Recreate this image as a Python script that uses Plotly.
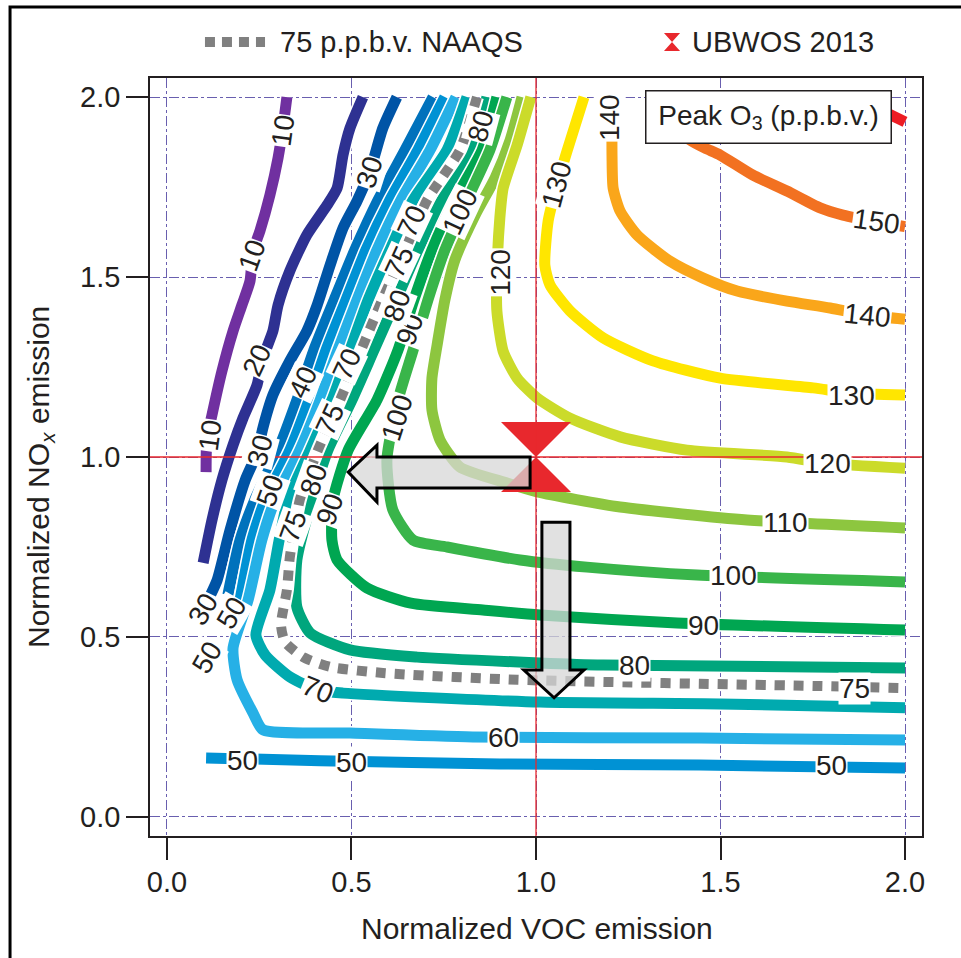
import plotly.graph_objects as go

# ---------------- data ----------------
# Each contour: normalized VOC emission (x) and normalized NOx emission (y)
VOC_10 = [0.325, 0.314, 0.301, 0.279, 0.252, 0.233, 0.225, 0.203, 0.179, 0.149, 0.122, 0.108, 0.106]
NOX_10 = [2.0, 1.914, 1.831, 1.728, 1.628, 1.572, 1.489, 1.422, 1.350, 1.239, 1.117, 1.047, 0.958]

VOC_20 = [0.531, 0.496, 0.477, 0.461, 0.434, 0.379, 0.333, 0.301, 0.287, 0.260, 0.244, 0.206, 0.179, 0.149, 0.122, 0.098]
NOX_20 = [2.0, 1.914, 1.839, 1.747, 1.700, 1.617, 1.517, 1.422, 1.350, 1.275, 1.200, 1.108, 1.033, 0.936, 0.825, 0.706]

VOC_30 = [0.623, 0.585, 0.550, 0.515, 0.477, 0.442, 0.407, 0.379, 0.333, 0.287, 0.260, 0.244, 0.212, 0.171, 0.136, 0.119]
NOX_30 = [2.0, 1.914, 1.794, 1.711, 1.636, 1.533, 1.422, 1.350, 1.267, 1.172, 1.081, 1.011, 0.936, 0.797, 0.658, 0.619]

VOC_40 = [0.721, 0.645, 0.572, 0.509, 0.453, 0.398, 0.352, 0.301, 0.238, 0.198, 0.165]
NOX_40 = [2.0, 1.853, 1.714, 1.575, 1.436, 1.297, 1.158, 1.019, 0.881, 0.769, 0.617]

VOC_50 = [0.753, 0.680, 0.604, 0.539, 0.485, 0.431, 0.385, 0.333, 0.266, 0.230, 0.198]
NOX_50 = [2.0, 1.853, 1.714, 1.575, 1.436, 1.297, 1.158, 1.019, 0.881, 0.769, 0.603]

VOC_50_LOW = [0.106, 0.415, 0.902, 1.444, 2.0]
NOX_50_LOW = [0.164, 0.156, 0.147, 0.144, 0.136]

VOC_60 = [0.783, 0.713, 0.634, 0.569, 0.515, 0.463, 0.415, 0.360, 0.293, 0.257, 0.220, 0.179, 0.190, 0.233, 0.260, 0.496, 0.829, 1.444, 2.0]
NOX_60 = [2.0, 1.853, 1.714, 1.575, 1.436, 1.297, 1.158, 1.019, 0.881, 0.769, 0.603, 0.469, 0.381, 0.289, 0.242, 0.233, 0.222, 0.219, 0.214]

VOC_70 = [0.813, 0.759, 0.667, 0.604, 0.545, 0.496, 0.447, 0.388, 0.328, 0.304, 0.279, 0.241, 0.266, 0.333, 0.407, 0.477, 1.011, 1.499, 2.0]
NOX_70 = [2.0, 1.853, 1.714, 1.575, 1.436, 1.297, 1.158, 1.019, 0.881, 0.769, 0.631, 0.506, 0.450, 0.389, 0.353, 0.344, 0.319, 0.314, 0.303]

VOC_75 = [0.840, 0.794, 0.705, 0.645, 0.583, 0.526, 0.469, 0.409, 0.360, 0.333, 0.325, 0.309, 0.320, 0.369, 0.442, 0.585, 0.949, 1.751, 2.0]
NOX_75 = [2.0, 1.853, 1.714, 1.575, 1.436, 1.297, 1.158, 1.019, 0.881, 0.722, 0.631, 0.533, 0.486, 0.444, 0.417, 0.400, 0.381, 0.364, 0.358]

VOC_80 = [0.867, 0.848, 0.821, 0.745, 0.680, 0.621, 0.561, 0.501, 0.436, 0.393, 0.352, 0.352, 0.388, 0.496, 0.678, 1.011, 1.182, 2.0]
NOX_80 = [2.0, 1.922, 1.853, 1.714, 1.575, 1.436, 1.297, 1.158, 1.019, 0.881, 0.714, 0.583, 0.511, 0.464, 0.444, 0.428, 0.422, 0.414]

VOC_90 = [0.894, 0.854, 0.780, 0.718, 0.669, 0.626, 0.569, 0.491, 0.450, 0.447, 0.461, 0.542, 0.661, 0.856, 1.011, 1.382, 2.0]
NOX_90 = [2.0, 1.853, 1.714, 1.575, 1.436, 1.297, 1.158, 1.019, 0.881, 0.769, 0.714, 0.636, 0.594, 0.575, 0.561, 0.539, 0.519]

VOC_100 = [0.921, 0.875, 0.813, 0.753, 0.707, 0.667, 0.626, 0.596, 0.612, 0.667, 0.759, 0.957, 1.138, 1.436, 2.0]
NOX_100 = [2.0, 1.853, 1.714, 1.575, 1.436, 1.297, 1.158, 0.992, 0.853, 0.769, 0.750, 0.714, 0.694, 0.672, 0.653]

VOC_110 = [0.962, 0.930, 0.889, 0.835, 0.780, 0.753, 0.732, 0.718, 0.718, 0.740, 0.794, 0.921, 1.003, 1.228, 1.572, 2.0]
NOX_110 = [2.0, 1.881, 1.775, 1.672, 1.547, 1.436, 1.311, 1.219, 1.131, 1.047, 0.972, 0.928, 0.903, 0.861, 0.825, 0.803]

VOC_120 = [0.986, 0.949, 0.911, 0.902, 0.894, 0.894, 0.911, 0.949, 1.003, 1.092, 1.228, 1.409, 1.680, 1.783, 2.0]
NOX_120 = [2.0, 1.867, 1.747, 1.664, 1.506, 1.406, 1.294, 1.219, 1.164, 1.108, 1.056, 1.019, 1.0, 0.983, 0.969]

VOC_130 = [1.130, 1.084, 1.057, 1.033, 1.024, 1.038, 1.092, 1.182, 1.317, 1.499, 1.751, 1.851, 2.0]
NOX_130 = [2.0, 1.850, 1.756, 1.656, 1.533, 1.478, 1.406, 1.331, 1.267, 1.219, 1.192, 1.178, 1.172]

VOC_140 = [1.206, 1.206, 1.209, 1.228, 1.274, 1.363, 1.453, 1.545, 1.680, 1.797, 1.897, 2.0]
NOX_140 = [2.0, 1.836, 1.747, 1.683, 1.617, 1.544, 1.497, 1.461, 1.433, 1.414, 1.394, 1.383]

VOC_150 = [1.363, 1.417, 1.458, 1.499, 1.588, 1.680, 1.770, 1.832, 1.924, 2.0]
NOX_150 = [1.936, 1.881, 1.858, 1.839, 1.783, 1.739, 1.692, 1.672, 1.653, 1.640]

VOC_160 = [1.878, 2.0]
NOX_160 = [1.992, 1.931]

# UBWOS 2013 observation point
UBWOS_VOC = [1.0]
UBWOS_NOX = [1.0]

# contour label levels (in drawing order)
LABEL_LEVELS = ["10", "10", "10", "20", "30", "30", "40", "75", "70", "80", "100", "120", "130", "140",
                "90", "80", "70", "75", "100", "50", "90", "80", "75", "30", "50", "50", "70",
                "60", "50", "50", "50", "75", "80", "90", "100", "110", "120", "130", "140", "150"]

TICK_VALUES = [0.0, 0.5, 1.0, 1.5, 2.0]
TICK_LABELS = ["0.0", "0.5", "1.0", "1.5", "2.0"]

# ---------------- layout / style ----------------
# label placement (x, y, angle) matching LABEL_LEVELS
LABEL_POS = [(0.314, 1.908, -82), (0.230, 1.561, -70), (0.116, 1.061, -82), (0.244, 1.267, -65),
             (0.550, 1.792, -72), (0.252, 1.019, -75), (0.369, 1.206, -65), (0.631, 1.542, -65),
             (0.664, 1.653, -65), (0.851, 1.917, -75), (0.794, 1.683, -65), (0.902, 1.514, -90),
             (1.057, 1.756, -75), (1.201, 1.942, -90),
             (0.659, 1.353, -70), (0.623, 1.422, -70), (0.488, 1.256, -65), (0.442, 1.103, -65),
             (0.623, 1.111, -72), (0.279, 0.908, -70), (0.442, 0.853, -70), (0.396, 0.936, -70),
             (0.341, 0.808, -70), (0.098, 0.575, -60), (0.176, 0.567, -60), (0.108, 0.444, -60),
             (0.407, 0.353, 22),
             (0.911, 0.222, 0), (0.206, 0.158, 0), (0.501, 0.150, 0), (1.802, 0.144, 0),
             (1.864, 0.358, 0), (1.268, 0.422, 0), (1.453, 0.533, 0), (1.534, 0.672, 0),
             (1.675, 0.819, 0), (1.789, 0.983, 0), (1.856, 1.172, 0), (1.897, 1.394, 6),
             (1.924, 1.653, 8)]

COLORS = {
    10: "rgb(112,48,160)", 20: "rgb(46,49,146)", 30: "rgb(0,84,166)", 40: "rgb(0,114,188)",
    50: "rgb(0,146,212)", 60: "rgb(38,176,230)", 70: "rgb(0,170,175)", 75: "rgb(128,128,128)",
    80: "rgb(0,166,125)", 90: "rgb(0,166,81)", 100: "rgb(57,181,74)", 110: "rgb(141,198,63)",
    120: "rgb(203,219,42)", 130: "rgb(255,230,0)", 140: "rgb(250,166,26)", 150: "rgb(242,113,33)",
    160: "rgb(237,28,36)",
}

CONTOURS = [
    (10, VOC_10, NOX_10), (20, VOC_20, NOX_20), (30, VOC_30, NOX_30), (40, VOC_40, NOX_40),
    (50, VOC_50, NOX_50), (50, VOC_50_LOW, NOX_50_LOW), (60, VOC_60, NOX_60), (70, VOC_70, NOX_70),
    (80, VOC_80, NOX_80), (90, VOC_90, NOX_90), (100, VOC_100, NOX_100), (110, VOC_110, NOX_110),
    (120, VOC_120, NOX_120), (130, VOC_130, NOX_130), (140, VOC_140, NOX_140), (150, VOC_150, NOX_150),
    (160, VOC_160, NOX_160), (75, VOC_75, NOX_75),
]

FONT = "Liberation Sans, Arial, Helvetica, sans-serif"
INK = "#231f20"
GRID = "rgb(105,95,175)"
RED = "rgb(232,40,45)"

fig = go.Figure()

for level, xs, ys in CONTOURS:
    dotted = level == 75
    fig.add_trace(go.Scatter(
        x=xs, y=ys, mode="lines", hoverinfo="skip", showlegend=False,
        line=dict(color="white", width=14, shape="spline", smoothing=0.6)))
    fig.add_trace(go.Scatter(
        x=xs, y=ys, mode="lines", name=f"{level} p.p.b.v.", showlegend=False,
        line=dict(color=COLORS[level], width=10 if dotted else 11, shape="spline", smoothing=0.6,
                  dash="10px,9px" if dotted else "solid")))

fig.add_trace(go.Scatter(
    x=UBWOS_VOC, y=UBWOS_NOX, mode="markers", name="UBWOS 2013", showlegend=False,
    marker=dict(symbol="hourglass", size=70, color=RED, line=dict(width=0))))

annotations = []
for text, (lx, ly, ang) in zip(LABEL_LEVELS, LABEL_POS):
    annotations.append(dict(
        x=lx, y=ly, xref="x", yref="y", text=text, showarrow=False, textangle=ang,
        bgcolor="white", borderpad=0, font=dict(family=FONT, size=28, color=INK)))

# "Peak O3" box
annotations.append(dict(
    x=1.631, y=1.944, xref="x", yref="y", text="Peak O<sub>3</sub> (p.p.b.v.)", showarrow=False,
    bgcolor="white", bordercolor=INK, borderwidth=1.5, borderpad=0, width=244, height=51,
    font=dict(family=FONT, size=28, color=INK)))

# legend texts
annotations.append(dict(x=0.1658, y=1.0475, xref="paper", yref="paper", xanchor="left", yanchor="middle",
                        text="75 p.p.b.v. NAAQS", showarrow=False,
                        font=dict(family=FONT, size=29, color=INK)))
annotations.append(dict(x=0.6995, y=1.0475, xref="paper", yref="paper", xanchor="left", yanchor="middle",
                        text="UBWOS 2013", showarrow=False,
                        font=dict(family=FONT, size=29, color=INK)))
# axis titles
annotations.append(dict(x=0.501, y=-0.1214, xref="paper", yref="paper", xanchor="center", yanchor="middle",
                        text="Normalized VOC emission",
                        showarrow=False, font=dict(family=FONT, size=30, color=INK)))
annotations.append(dict(x=-0.1425, y=0.4736, xref="paper", yref="paper", xanchor="center", yanchor="middle",
                        textangle=-90, text="Normalized NO<sub><i>x</i></sub> emission",
                        showarrow=False, font=dict(family=FONT, size=30, color=INK)))

shapes = [
    # red crosshair through the UBWOS point
    dict(type="line", xref="x", yref="paper", x0=1, x1=1, y0=0, y1=1,
         line=dict(color=RED, width=1.3), layer="above"),
    dict(type="line", xref="paper", yref="y", x0=0, x1=1, y0=1, y1=1,
         line=dict(color=RED, width=1.3), layer="above"),
    # arrows
    dict(type="path", xref="x", yref="y",
         path="M 0.984,1.0 L 0.569,1.0 L 0.569,1.033 L 0.491,0.958 L 0.569,0.875 L 0.569,0.914 L 0.984,0.914 Z",
         fillcolor="rgba(215,215,215,0.75)", line=dict(color="black", width=3), layer="above"),
    dict(type="path", xref="x", yref="y",
         path="M 1.016,0.819 L 1.092,0.819 L 1.092,0.408 L 1.130,0.408 L 1.049,0.331 L 0.967,0.408 L 1.016,0.408 Z",
         fillcolor="rgba(215,215,215,0.75)", line=dict(color="black", width=3), layer="above"),
    # legend symbols
    dict(type="line", xref="paper", yref="paper", x0=0.0712, x1=0.149, y0=1.0475, y1=1.0475,
         line=dict(color=COLORS[75], width=10, dash="10px,7px")),
    dict(type="path", xref="paper", yref="paper",
         path="M 0.6658,1.0594 L 0.6866,1.0594 L 0.6658,1.0356 L 0.6866,1.0356 Z",
         fillcolor=RED, line=dict(width=0)),
    # outer frame
    dict(type="rect", xref="paper", yref="paper", x0=-0.1813, x1=1.07, y0=-0.2, y1=1.0937,
         line=dict(color="black", width=3), fillcolor="rgba(0,0,0,0)"),
]

axis_common = dict(
    tickvals=TICK_VALUES, ticktext=TICK_LABELS, ticks="outside", ticklen=22, tickwidth=1.5,
    tickcolor=INK, showline=True, linewidth=1.5, linecolor=INK, mirror=True,
    showgrid=True, gridcolor=GRID, gridwidth=1, griddash="10px,3px,3px,3px", zeroline=False,
    tickfont=dict(family=FONT, size=29, color=INK), fixedrange=True,
)
fig.update_xaxes(range=[-0.046, 2.046], ticklabelstandoff=-3, **axis_common)
fig.update_yaxes(range=[-0.053, 2.053], **axis_common)

fig.update_layout(
    width=961, height=958, margin=dict(l=150, r=39, t=78, b=122),
    paper_bgcolor="white", plot_bgcolor="white",
    annotations=annotations, shapes=shapes, showlegend=False,
    font=dict(family=FONT, color=INK),
)

fig.write_html("out.html", config={"displayModeBar": False},
               post_script="document.body.style.margin='0px';document.body.style.overflow='hidden';")
